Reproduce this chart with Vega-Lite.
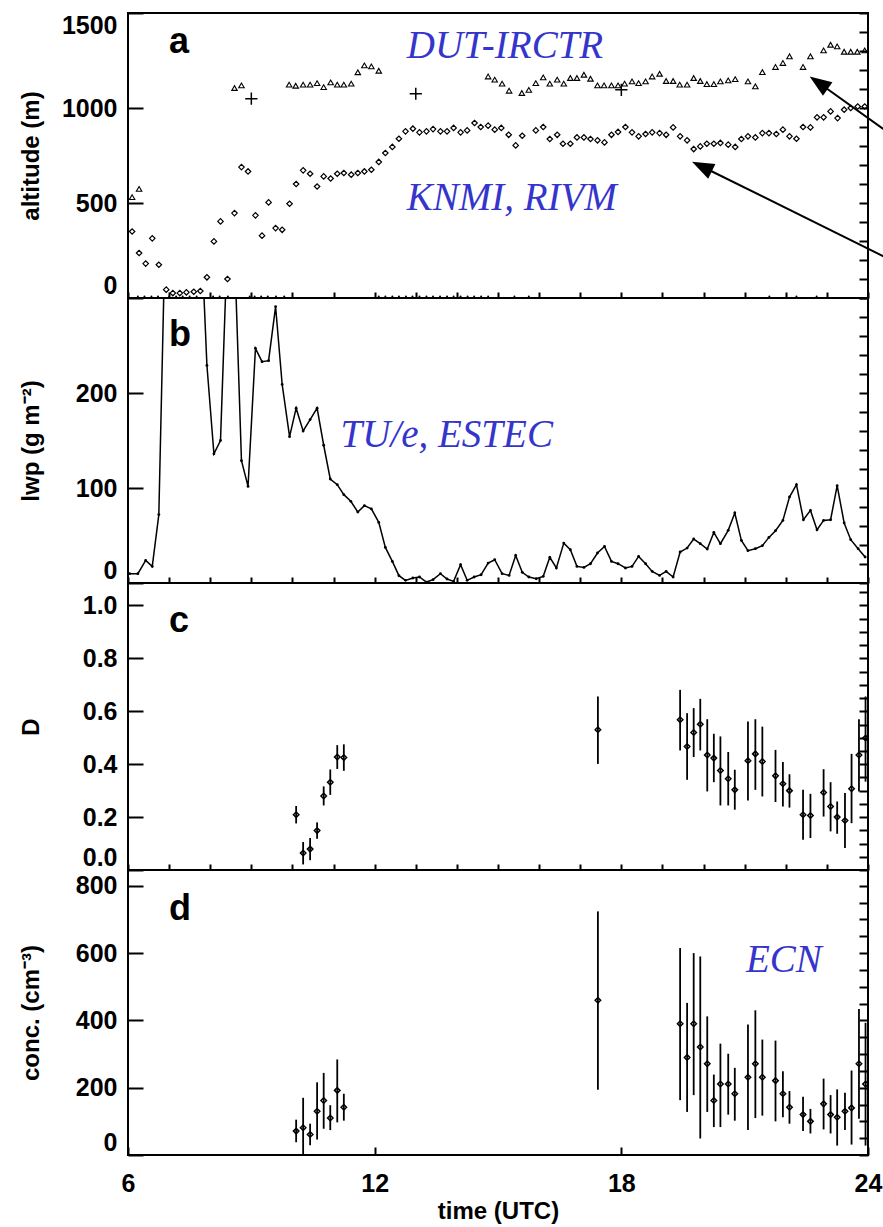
{
"$schema": "https://vega.github.io/schema/vega-lite/v6.json",
"background": "white",
"padding": {"left": 18, "top": 0, "right": 0, "bottom": 0},
"spacing": 0,
"bounds": "flush",
"config": {
 "view": {"stroke": "black", "strokeWidth": 2},
 "axis": {"domain": false, "grid": false, "tickColor": "black", "tickWidth": 2, "labelFont": "Liberation Sans", "labelFontWeight": "bold", "labelFontSize": 25, "labelColor": "black", "titleFont": "Liberation Sans", "titleFontWeight": "bold", "titleFontSize": 24, "titleColor": "black", "labelOverlap": false}
},
"datasets": {
 "tri": [{"t":6.10,"alt":531},{"t":6.27,"alt":574},{"t":8.59,"alt":1105},{"t":8.76,"alt":1119},{"t":9.92,"alt":1123},{"t":10.08,"alt":1117},{"t":10.26,"alt":1123},{"t":10.43,"alt":1123},{"t":10.60,"alt":1131},{"t":10.76,"alt":1110},{"t":10.93,"alt":1135},{"t":11.09,"alt":1123},{"t":11.25,"alt":1123},{"t":11.43,"alt":1128},{"t":11.59,"alt":1188},{"t":11.75,"alt":1224},{"t":11.92,"alt":1219},{"t":12.10,"alt":1196},{"t":14.76,"alt":1166},{"t":14.92,"alt":1149},{"t":15.10,"alt":1128},{"t":15.27,"alt":1091},{"t":15.58,"alt":1079},{"t":15.75,"alt":1095},{"t":15.92,"alt":1131},{"t":16.10,"alt":1161},{"t":16.26,"alt":1128},{"t":16.44,"alt":1149},{"t":16.60,"alt":1128},{"t":16.76,"alt":1158},{"t":16.92,"alt":1158},{"t":17.09,"alt":1175},{"t":17.25,"alt":1154},{"t":17.42,"alt":1119},{"t":17.58,"alt":1119},{"t":17.76,"alt":1119},{"t":17.92,"alt":1119},{"t":18.08,"alt":1128},{"t":18.26,"alt":1140},{"t":18.42,"alt":1131},{"t":18.59,"alt":1140},{"t":18.75,"alt":1166},{"t":18.93,"alt":1180},{"t":19.09,"alt":1142},{"t":19.26,"alt":1142},{"t":19.42,"alt":1123},{"t":19.60,"alt":1123},{"t":19.76,"alt":1158},{"t":19.92,"alt":1142},{"t":20.08,"alt":1126},{"t":20.25,"alt":1126},{"t":20.41,"alt":1140},{"t":20.60,"alt":1145},{"t":20.77,"alt":1152},{"t":21.08,"alt":1140},{"t":21.26,"alt":1114},{"t":21.43,"alt":1189},{"t":21.75,"alt":1216},{"t":21.93,"alt":1237},{"t":22.09,"alt":1272},{"t":22.42,"alt":1216},{"t":22.60,"alt":1272},{"t":22.92,"alt":1303},{"t":23.09,"alt":1333},{"t":23.25,"alt":1324},{"t":23.42,"alt":1296},{"t":23.58,"alt":1296},{"t":23.74,"alt":1296},{"t":23.92,"alt":1303}],
 "dia": [{"t":6.10,"alt":350},{"t":6.27,"alt":237},{"t":6.43,"alt":181},{"t":6.59,"alt":314},{"t":6.75,"alt":175},{"t":6.93,"alt":44},{"t":7.09,"alt":26},{"t":7.26,"alt":26},{"t":7.42,"alt":30},{"t":7.60,"alt":33},{"t":7.76,"alt":37},{"t":7.92,"alt":109},{"t":8.09,"alt":298},{"t":8.25,"alt":403},{"t":8.42,"alt":100},{"t":8.59,"alt":447},{"t":8.76,"alt":689},{"t":8.92,"alt":666},{"t":9.10,"alt":435},{"t":9.26,"alt":328},{"t":9.42,"alt":503},{"t":9.59,"alt":368},{"t":9.75,"alt":359},{"t":9.93,"alt":496},{"t":10.09,"alt":600},{"t":10.26,"alt":672},{"t":10.43,"alt":654},{"t":10.60,"alt":587},{"t":10.76,"alt":640},{"t":10.93,"alt":629},{"t":11.09,"alt":654},{"t":11.25,"alt":658},{"t":11.43,"alt":649},{"t":11.59,"alt":658},{"t":11.75,"alt":666},{"t":11.92,"alt":675},{"t":12.10,"alt":716},{"t":12.26,"alt":763},{"t":12.43,"alt":795},{"t":12.59,"alt":838},{"t":12.75,"alt":877},{"t":12.93,"alt":891},{"t":13.09,"alt":872},{"t":13.26,"alt":877},{"t":13.42,"alt":889},{"t":13.60,"alt":877},{"t":13.76,"alt":877},{"t":13.92,"alt":895},{"t":14.09,"alt":872},{"t":14.25,"alt":882},{"t":14.43,"alt":921},{"t":14.58,"alt":900},{"t":14.76,"alt":907},{"t":14.92,"alt":886},{"t":15.08,"alt":895},{"t":15.26,"alt":859},{"t":15.43,"alt":803},{"t":15.59,"alt":854},{"t":15.92,"alt":882},{"t":16.10,"alt":900},{"t":16.26,"alt":837},{"t":16.44,"alt":859},{"t":16.58,"alt":812},{"t":16.76,"alt":812},{"t":16.92,"alt":845},{"t":17.09,"alt":845},{"t":17.25,"alt":837},{"t":17.42,"alt":830},{"t":17.59,"alt":819},{"t":17.76,"alt":859},{"t":17.92,"alt":874},{"t":18.10,"alt":900},{"t":18.26,"alt":872},{"t":18.42,"alt":851},{"t":18.59,"alt":863},{"t":18.75,"alt":872},{"t":18.93,"alt":868},{"t":19.09,"alt":859},{"t":19.26,"alt":898},{"t":19.43,"alt":851},{"t":19.60,"alt":830},{"t":19.76,"alt":784},{"t":19.92,"alt":798},{"t":20.08,"alt":812},{"t":20.25,"alt":812},{"t":20.41,"alt":816},{"t":20.60,"alt":807},{"t":20.77,"alt":795},{"t":20.92,"alt":837},{"t":21.08,"alt":851},{"t":21.26,"alt":845},{"t":21.43,"alt":868},{"t":21.59,"alt":868},{"t":21.77,"alt":863},{"t":21.93,"alt":886},{"t":22.09,"alt":851},{"t":22.26,"alt":838},{"t":22.42,"alt":900},{"t":22.60,"alt":898},{"t":22.76,"alt":951},{"t":22.92,"alt":951},{"t":23.09,"alt":982},{"t":23.26,"alt":947},{"t":23.42,"alt":991},{"t":23.58,"alt":1000},{"t":23.75,"alt":1008},{"t":23.92,"alt":1008}],
 "crs": [{"t":9.0,"alt":1049},{"t":13.0,"alt":1075},{"t":18.0,"alt":1096}],
 "clr": [{"t":6.24,"alt":8},{"t":6.40,"alt":8},{"t":6.57,"alt":8},{"t":6.73,"alt":8},{"t":7.00,"alt":8},{"t":7.17,"alt":8},{"t":7.33,"alt":8},{"t":7.50,"alt":8},{"t":7.67,"alt":8},{"t":8.07,"alt":8},{"t":8.23,"alt":8},{"t":8.43,"alt":8},{"t":8.96,"alt":8},{"t":9.08,"alt":8},{"t":9.24,"alt":8},{"t":9.40,"alt":8},{"t":9.60,"alt":8},{"t":9.80,"alt":8},{"t":12.10,"alt":8},{"t":12.26,"alt":8},{"t":12.43,"alt":8},{"t":12.59,"alt":8},{"t":12.76,"alt":8},{"t":12.92,"alt":8},{"t":13.09,"alt":8},{"t":13.26,"alt":8},{"t":13.42,"alt":8},{"t":13.59,"alt":8},{"t":13.76,"alt":8},{"t":13.92,"alt":8},{"t":14.09,"alt":8},{"t":14.26,"alt":8},{"t":14.42,"alt":8},{"t":14.59,"alt":8},{"t":14.76,"alt":8},{"t":15.40,"alt":8},{"t":15.75,"alt":8},{"t":21.60,"alt":8},{"t":22.26,"alt":8},{"t":22.75,"alt":8}],
 "lwp": [{"t":6.04,"lwp":9.8},{"t":6.24,"lwp":9.8},{"t":6.43,"lwp":23.8},{"t":6.59,"lwp":17.5},{"t":6.75,"lwp":72},{"t":6.92,"lwp":400},{"t":7.09,"lwp":520},{"t":7.26,"lwp":560},{"t":7.42,"lwp":540},{"t":7.59,"lwp":500},{"t":7.76,"lwp":390},{"t":7.92,"lwp":229},{"t":8.09,"lwp":136},{"t":8.25,"lwp":150},{"t":8.42,"lwp":362},{"t":8.59,"lwp":353},{"t":8.76,"lwp":128.7},{"t":8.92,"lwp":101.7},{"t":9.10,"lwp":247},{"t":9.26,"lwp":233},{"t":9.42,"lwp":234},{"t":9.59,"lwp":291},{"t":9.75,"lwp":209},{"t":9.93,"lwp":154},{"t":10.09,"lwp":184},{"t":10.26,"lwp":160},{"t":10.43,"lwp":172},{"t":10.60,"lwp":184},{"t":10.76,"lwp":145},{"t":10.92,"lwp":109.5},{"t":11.09,"lwp":103.5},{"t":11.25,"lwp":93},{"t":11.42,"lwp":86},{"t":11.59,"lwp":74.7},{"t":11.75,"lwp":81.4},{"t":11.92,"lwp":78},{"t":12.10,"lwp":63.8},{"t":12.26,"lwp":37.5},{"t":12.43,"lwp":22.7},{"t":12.59,"lwp":7.7},{"t":12.75,"lwp":2.8},{"t":12.93,"lwp":5.3},{"t":13.09,"lwp":6.3},{"t":13.26,"lwp":1},{"t":13.42,"lwp":3.5},{"t":13.60,"lwp":9.8},{"t":13.76,"lwp":4.2},{"t":13.92,"lwp":1.7},{"t":14.09,"lwp":19.3},{"t":14.25,"lwp":2.8},{"t":14.42,"lwp":6.3},{"t":14.59,"lwp":8.7},{"t":14.76,"lwp":21},{"t":14.92,"lwp":24.5},{"t":15.10,"lwp":9.8},{"t":15.27,"lwp":8},{"t":15.43,"lwp":29},{"t":15.59,"lwp":11.2},{"t":15.75,"lwp":6.3},{"t":15.93,"lwp":4.5},{"t":16.10,"lwp":7},{"t":16.26,"lwp":27},{"t":16.42,"lwp":15.8},{"t":16.60,"lwp":42},{"t":16.76,"lwp":35},{"t":16.92,"lwp":17.5},{"t":17.09,"lwp":16.4},{"t":17.25,"lwp":20.3},{"t":17.42,"lwp":31.6},{"t":17.59,"lwp":38.5},{"t":17.76,"lwp":22.7},{"t":17.92,"lwp":20.3},{"t":18.10,"lwp":15.8},{"t":18.26,"lwp":17.5},{"t":18.42,"lwp":28},{"t":18.59,"lwp":20.3},{"t":18.75,"lwp":12.2},{"t":18.93,"lwp":8},{"t":19.09,"lwp":12.2},{"t":19.26,"lwp":6.3},{"t":19.43,"lwp":32.6},{"t":19.60,"lwp":36.8},{"t":19.76,"lwp":46.3},{"t":19.92,"lwp":41.4},{"t":20.09,"lwp":35.8},{"t":20.25,"lwp":53.3},{"t":20.41,"lwp":41.4},{"t":20.60,"lwp":55.4},{"t":20.76,"lwp":73.7},{"t":20.92,"lwp":44.8},{"t":21.08,"lwp":34},{"t":21.26,"lwp":36.1},{"t":21.43,"lwp":39.3},{"t":21.59,"lwp":48},{"t":21.75,"lwp":55},{"t":21.93,"lwp":65.9},{"t":22.09,"lwp":90.5},{"t":22.26,"lwp":103.5},{"t":22.43,"lwp":66.6},{"t":22.60,"lwp":76.4},{"t":22.76,"lwp":56},{"t":22.92,"lwp":65.9},{"t":23.09,"lwp":66.6},{"t":23.25,"lwp":102.4},{"t":23.42,"lwp":63.2},{"t":23.58,"lwp":45.6},{"t":23.76,"lwp":36.1},{"t":23.93,"lwp":27.4}],
 "dd": [{"t":10.09,"D":0.209,"lo":0.176,"hi":0.242},{"t":10.26,"D":0.064,"lo":0.021,"hi":0.106},{"t":10.43,"D":0.079,"lo":0.037,"hi":0.121},{"t":10.60,"D":0.149,"lo":0.118,"hi":0.180},{"t":10.76,"D":0.280,"lo":0.244,"hi":0.316},{"t":10.92,"D":0.332,"lo":0.284,"hi":0.380},{"t":11.09,"D":0.427,"lo":0.382,"hi":0.472},{"t":11.25,"D":0.425,"lo":0.375,"hi":0.475},{"t":17.43,"D":0.530,"lo":0.401,"hi":0.656},{"t":19.43,"D":0.568,"lo":0.452,"hi":0.681},{"t":19.60,"D":0.467,"lo":0.341,"hi":0.593},{"t":19.76,"D":0.520,"lo":0.427,"hi":0.612},{"t":19.92,"D":0.551,"lo":0.452,"hi":0.647},{"t":20.09,"D":0.435,"lo":0.297,"hi":0.570},{"t":20.25,"D":0.423,"lo":0.332,"hi":0.515},{"t":20.41,"D":0.376,"lo":0.244,"hi":0.505},{"t":20.60,"D":0.345,"lo":0.244,"hi":0.446},{"t":20.76,"D":0.303,"lo":0.228,"hi":0.379},{"t":21.08,"D":0.413,"lo":0.263,"hi":0.561},{"t":21.26,"D":0.439,"lo":0.303,"hi":0.570},{"t":21.43,"D":0.410,"lo":0.278,"hi":0.542},{"t":21.75,"D":0.356,"lo":0.257,"hi":0.454},{"t":21.93,"D":0.326,"lo":0.240,"hi":0.408},{"t":22.09,"D":0.300,"lo":0.236,"hi":0.362},{"t":22.42,"D":0.209,"lo":0.114,"hi":0.303},{"t":22.60,"D":0.206,"lo":0.121,"hi":0.288},{"t":22.92,"D":0.293,"lo":0.202,"hi":0.381},{"t":23.09,"D":0.240,"lo":0.146,"hi":0.332},{"t":23.25,"D":0.200,"lo":0.137,"hi":0.259},{"t":23.44,"D":0.187,"lo":0.083,"hi":0.291},{"t":23.60,"D":0.307,"lo":0.177,"hi":0.439},{"t":23.78,"D":0.435,"lo":0.297,"hi":0.570},{"t":23.94,"D":0.499,"lo":0.334,"hi":0.656}],
 "cc": [{"t":10.09,"conc":71,"lo":38,"hi":105},{"t":10.26,"conc":81,"lo":-5,"hi":170},{"t":10.43,"conc":61,"lo":29,"hi":93},{"t":10.60,"conc":130,"lo":46,"hi":216},{"t":10.76,"conc":162,"lo":78,"hi":244},{"t":10.92,"conc":110,"lo":74,"hi":148},{"t":11.09,"conc":192,"lo":97,"hi":284},{"t":11.25,"conc":142,"lo":102,"hi":182},{"t":17.43,"conc":460,"lo":194,"hi":724},{"t":19.43,"conc":390,"lo":163,"hi":615},{"t":19.60,"conc":290,"lo":128,"hi":452},{"t":19.76,"conc":390,"lo":178,"hi":600},{"t":19.92,"conc":321,"lo":49,"hi":590},{"t":20.09,"conc":271,"lo":128,"hi":412},{"t":20.25,"conc":162,"lo":83,"hi":239},{"t":20.41,"conc":211,"lo":83,"hi":331},{"t":20.60,"conc":211,"lo":120,"hi":301},{"t":20.76,"conc":182,"lo":102,"hi":259},{"t":21.08,"conc":231,"lo":74,"hi":388},{"t":21.26,"conc":271,"lo":110,"hi":430},{"t":21.43,"conc":231,"lo":117,"hi":343},{"t":21.75,"conc":221,"lo":100,"hi":340},{"t":21.93,"conc":182,"lo":112,"hi":249},{"t":22.09,"conc":142,"lo":93,"hi":190},{"t":22.42,"conc":120,"lo":71,"hi":173},{"t":22.60,"conc":100,"lo":64,"hi":137},{"t":22.92,"conc":152,"lo":76,"hi":227},{"t":23.09,"conc":120,"lo":64,"hi":178},{"t":23.25,"conc":112,"lo":28,"hi":195},{"t":23.44,"conc":130,"lo":74,"hi":185},{"t":23.60,"conc":140,"lo":31,"hi":251},{"t":23.78,"conc":271,"lo":108,"hi":434},{"t":23.94,"conc":211,"lo":28,"hi":393}]
},
"vconcat": [
{
 "width": 740, "height": 285,
 "resolve": {"axis": {"x": "independent", "y": "independent"}},
 "layer": [
  {"data": {"name": "dia"}, "mark": {"type": "point", "opacity": 0},
   "encoding": {"x": {"field": "t", "type": "quantitative", "scale": {"domain": [6, 24], "nice": false, "zero": false}, "axis": {"orient": "bottom", "values": [6, 7, 8, 9, 10, 11, 12, 13, 14, 15, 16, 17, 18, 19, 20, 21, 22, 23, 24], "labels": true, "labelExpr": "''", "tickSize": 6, "offset": -6, "title": ""}},
                "y": {"field": "alt", "type": "quantitative", "scale": {"domain": [0, 1500], "nice": false, "zero": false}, "axis": {"orient": "left", "values": [0, 500, 1000, 1500], "ticks": true, "tickSize": -15, "labelPadding": 26, "labelFlush": true, "format": "d", "title": "altitude (m)", "titleX": -97, "titleY": 142.5, "titleAngle": 270, "titleAlign": "center", "titleBaseline": "middle"}}}},
  {"data": {"name": "dia"}, "mark": {"type": "point", "opacity": 0},
   "encoding": {"x": {"field": "t", "type": "quantitative", "scale": {"domain": [6, 24], "nice": false, "zero": false}, "axis": null},
                "y": {"field": "alt", "type": "quantitative", "scale": {"domain": [0, 1500], "nice": false, "zero": false}, "axis": {"orient": "right", "values": [0, 100, 200, 300, 400, 500, 600, 700, 800, 900, 1000, 1100, 1200, 1300, 1400, 1500], "labels": true, "labelExpr": "''", "tickSize": 9, "offset": -9, "title": ""}}}},
  {"data": {"name": "clr"}, "mark": {"type": "circle", "size": 4, "color": "black", "opacity": 1},
   "encoding": {"x": {"field": "t", "type": "quantitative", "scale": {"domain": [6, 24], "nice": false, "zero": false}, "axis": null},
                "y": {"field": "alt", "type": "quantitative", "scale": {"domain": [0, 1500], "nice": false, "zero": false}, "axis": null}}},
  {"data": {"name": "dia"}, "mark": {"type": "point", "shape": "diamond", "size": 30, "filled": false, "stroke": "black", "strokeWidth": 1.2, "opacity": 1},
   "encoding": {"x": {"field": "t", "type": "quantitative", "scale": {"domain": [6, 24], "nice": false, "zero": false}, "axis": null},
                "y": {"field": "alt", "type": "quantitative", "scale": {"domain": [0, 1500], "nice": false, "zero": false}, "axis": null}}},
  {"data": {"name": "tri"}, "mark": {"type": "point", "shape": "triangle-up", "size": 30, "filled": false, "stroke": "black", "strokeWidth": 1.1, "opacity": 1},
   "encoding": {"x": {"field": "t", "type": "quantitative", "scale": {"domain": [6, 24], "nice": false, "zero": false}, "axis": null},
                "y": {"field": "alt", "type": "quantitative", "scale": {"domain": [0, 1500], "nice": false, "zero": false}, "axis": null}}},
  {"data": {"name": "crs"}, "mark": {"type": "point", "shape": "M-1,0L1,0M0,-1L0,1", "size": 150, "filled": false, "stroke": "black", "strokeWidth": 1.5, "opacity": 1},
   "encoding": {"x": {"field": "t", "type": "quantitative", "scale": {"domain": [6, 24], "nice": false, "zero": false}, "axis": null},
                "y": {"field": "alt", "type": "quantitative", "scale": {"domain": [0, 1500], "nice": false, "zero": false}, "axis": null}}},
  {"data": {"values": [{"t": 24.81, "alt": 822, "t2": 22.80, "alt2": 1133}, {"t": 24.81, "alt": 173, "t2": 19.96, "alt2": 692}]},
   "mark": {"type": "rule", "clip": false, "strokeWidth": 2, "color": "black"},
   "encoding": {"x": {"field": "t", "type": "quantitative", "scale": {"domain": [6, 24], "nice": false, "zero": false}, "axis": null},
                "y": {"field": "alt", "type": "quantitative", "scale": {"domain": [0, 1500], "nice": false, "zero": false}, "axis": null},
                "x2": {"field": "t2"}, "y2": {"field": "alt2"}}},
  {"data": {"values": [{"t": 22.80, "alt": 1133}]},
   "mark": {"type": "point", "shape": "M0,-1L0.75,1L-0.75,1Z", "size": 484, "filled": true, "color": "black", "angle": 305, "opacity": 1},
   "encoding": {"x": {"field": "t", "type": "quantitative", "scale": {"domain": [6, 24], "nice": false, "zero": false}, "axis": null},
                "y": {"field": "alt", "type": "quantitative", "scale": {"domain": [0, 1500], "nice": false, "zero": false}, "axis": null}}},
  {"data": {"values": [{"t": 19.96, "alt": 692}]},
   "mark": {"type": "point", "shape": "M0,-1L0.75,1L-0.75,1Z", "size": 484, "filled": true, "color": "black", "angle": 296, "opacity": 1},
   "encoding": {"x": {"field": "t", "type": "quantitative", "scale": {"domain": [6, 24], "nice": false, "zero": false}, "axis": null},
                "y": {"field": "alt", "type": "quantitative", "scale": {"domain": [0, 1500], "nice": false, "zero": false}, "axis": null}}},
  {"data": {"values": [{"t": 7.0, "alt": 1291, "label": "a"}]},
   "mark": {"type": "text", "font": "Liberation Sans", "fontWeight": "bold", "fontSize": 36, "align": "left", "baseline": "alphabetic", "color": "black"},
   "encoding": {"x": {"field": "t", "type": "quantitative", "scale": {"domain": [6, 24], "nice": false, "zero": false}, "axis": null},
                "y": {"field": "alt", "type": "quantitative", "scale": {"domain": [0, 1500], "nice": false, "zero": false}, "axis": null},
                "text": {"field": "label"}}},
  {"data": {"values": [{"t": 12.78, "alt": 1265, "label": "DUT-IRCTR"}, {"t": 12.78, "alt": 465, "label": "KNMI, RIVM"}]},
   "mark": {"type": "text", "font": "Liberation Serif", "fontStyle": "italic", "fontSize": 39, "align": "left", "baseline": "alphabetic", "color": "#3535CC"},
   "encoding": {"x": {"field": "t", "type": "quantitative", "scale": {"domain": [6, 24], "nice": false, "zero": false}, "axis": null},
                "y": {"field": "alt", "type": "quantitative", "scale": {"domain": [0, 1500], "nice": false, "zero": false}, "axis": null},
                "text": {"field": "label"}}}
 ]
},
{
 "width": 740, "height": 285,
 "resolve": {"axis": {"x": "independent", "y": "independent"}},
 "layer": [
  {"data": {"name": "lwp"}, "mark": {"type": "point", "opacity": 0},
   "encoding": {"x": {"field": "t", "type": "quantitative", "scale": {"domain": [6, 24], "nice": false, "zero": false}, "axis": {"orient": "bottom", "values": [6, 7, 8, 9, 10, 11, 12, 13, 14, 15, 16, 17, 18, 19, 20, 21, 22, 23, 24], "labels": true, "labelExpr": "''", "tickSize": 6, "offset": -6, "title": ""}},
                "y": {"field": "lwp", "type": "quantitative", "scale": {"domain": [0, 300], "nice": false, "zero": false}, "axis": {"orient": "left", "values": [0, 100, 200], "ticks": true, "tickSize": -15, "labelPadding": 26, "labelFlush": true, "format": "d", "title": "lwp (g m⁻²)", "titleX": -97, "titleY": 142.5, "titleAngle": 270, "titleAlign": "center", "titleBaseline": "middle"}}}},
  {"data": {"name": "lwp"}, "mark": {"type": "point", "opacity": 0},
   "encoding": {"x": {"field": "t", "type": "quantitative", "scale": {"domain": [6, 24], "nice": false, "zero": false}, "axis": null},
                "y": {"field": "lwp", "type": "quantitative", "scale": {"domain": [0, 300], "nice": false, "zero": false}, "axis": {"orient": "right", "values": [0, 20, 40, 60, 80, 100, 120, 140, 160, 180, 200, 220, 240, 260, 280, 300], "labels": true, "labelExpr": "''", "tickSize": 9, "offset": -9, "title": ""}}}},
  {"data": {"name": "lwp"}, "mark": {"type": "line", "color": "black", "strokeWidth": 1.5, "clip": true},
   "encoding": {"x": {"field": "t", "type": "quantitative", "scale": {"domain": [6, 24], "nice": false, "zero": false}, "axis": null},
                "y": {"field": "lwp", "type": "quantitative", "scale": {"domain": [0, 300], "nice": false, "zero": false}, "axis": null}}},
  {"data": {"name": "lwp"}, "mark": {"type": "circle", "color": "black", "size": 8, "clip": true, "opacity": 1},
   "encoding": {"x": {"field": "t", "type": "quantitative", "scale": {"domain": [6, 24], "nice": false, "zero": false}, "axis": null},
                "y": {"field": "lwp", "type": "quantitative", "scale": {"domain": [0, 300], "nice": false, "zero": false}, "axis": null}}},
  {"data": {"values": [{"t": 7.0, "lwp": 249, "label": "b"}]},
   "mark": {"type": "text", "font": "Liberation Sans", "fontWeight": "bold", "fontSize": 36, "align": "left", "baseline": "alphabetic", "color": "black"},
   "encoding": {"x": {"field": "t", "type": "quantitative", "scale": {"domain": [6, 24], "nice": false, "zero": false}, "axis": null},
                "y": {"field": "lwp", "type": "quantitative", "scale": {"domain": [0, 300], "nice": false, "zero": false}, "axis": null},
                "text": {"field": "label"}}},
  {"data": {"values": [{"t": 11.17, "lwp": 143.5, "label": "TU/e, ESTEC"}]},
   "mark": {"type": "text", "font": "Liberation Serif", "fontStyle": "italic", "fontSize": 39, "align": "left", "baseline": "alphabetic", "color": "#3535CC"},
   "encoding": {"x": {"field": "t", "type": "quantitative", "scale": {"domain": [6, 24], "nice": false, "zero": false}, "axis": null},
                "y": {"field": "lwp", "type": "quantitative", "scale": {"domain": [0, 300], "nice": false, "zero": false}, "axis": null},
                "text": {"field": "label"}}}
 ]
},
{
 "width": 740, "height": 287,
 "resolve": {"axis": {"x": "independent", "y": "independent"}},
 "layer": [
  {"data": {"name": "dd"}, "mark": {"type": "point", "opacity": 0},
   "encoding": {"x": {"field": "t", "type": "quantitative", "scale": {"domain": [6, 24], "nice": false, "zero": false}, "axis": {"orient": "bottom", "values": [6, 7, 8, 9, 10, 11, 12, 13, 14, 15, 16, 17, 18, 19, 20, 21, 22, 23, 24], "labels": true, "labelExpr": "''", "tickSize": 6, "offset": -6, "title": ""}},
                "y": {"field": "D", "type": "quantitative", "scale": {"domain": [0, 1.085], "nice": false, "zero": false}, "axis": {"orient": "left", "values": [0, 0.2, 0.4, 0.6, 0.8, 1.0], "ticks": true, "tickSize": -15, "labelPadding": 26, "labelFlush": true, "format": ".1f", "title": "D", "titleX": -97, "titleY": 143.5, "titleAngle": 270, "titleAlign": "center", "titleBaseline": "middle"}}}},
  {"data": {"name": "dd"}, "mark": {"type": "point", "opacity": 0},
   "encoding": {"x": {"field": "t", "type": "quantitative", "scale": {"domain": [6, 24], "nice": false, "zero": false}, "axis": null},
                "y": {"field": "D", "type": "quantitative", "scale": {"domain": [0, 1.085], "nice": false, "zero": false}, "axis": {"orient": "right", "values": [0, 0.05, 0.1, 0.15, 0.2, 0.25, 0.3, 0.35, 0.4, 0.45, 0.5, 0.55, 0.6, 0.65, 0.7, 0.75, 0.8, 0.85, 0.9, 0.95, 1.0, 1.05], "labels": true, "labelExpr": "''", "tickSize": 9, "offset": -9, "title": ""}}}},
  {"data": {"name": "dd"}, "mark": {"type": "rule", "color": "black", "strokeWidth": 1.8, "clip": true},
   "encoding": {"x": {"field": "t", "type": "quantitative", "scale": {"domain": [6, 24], "nice": false, "zero": false}, "axis": null},
                "y": {"field": "lo", "type": "quantitative", "scale": {"domain": [0, 1.085], "nice": false, "zero": false}, "axis": null},
                "y2": {"field": "hi"}}},
  {"data": {"name": "dd"}, "mark": {"type": "point", "shape": "diamond", "size": 30, "filled": false, "stroke": "black", "strokeWidth": 1.5, "opacity": 1},
   "encoding": {"x": {"field": "t", "type": "quantitative", "scale": {"domain": [6, 24], "nice": false, "zero": false}, "axis": null},
                "y": {"field": "D", "type": "quantitative", "scale": {"domain": [0, 1.085], "nice": false, "zero": false}, "axis": null}}},
  {"data": {"values": [{"t": 7.0, "D": 0.90, "label": "c"}]},
   "mark": {"type": "text", "font": "Liberation Sans", "fontWeight": "bold", "fontSize": 36, "align": "left", "baseline": "alphabetic", "color": "black"},
   "encoding": {"x": {"field": "t", "type": "quantitative", "scale": {"domain": [6, 24], "nice": false, "zero": false}, "axis": null},
                "y": {"field": "D", "type": "quantitative", "scale": {"domain": [0, 1.085], "nice": false, "zero": false}, "axis": null},
                "text": {"field": "label"}}}
 ]
},
{
 "width": 740, "height": 285,
 "resolve": {"axis": {"x": "independent", "y": "independent"}},
 "layer": [
  {"data": {"name": "cc"}, "mark": {"type": "point", "opacity": 0},
   "encoding": {"x": {"field": "t", "type": "quantitative", "scale": {"domain": [6, 24], "nice": false, "zero": false}, "axis": {"orient": "bottom", "values": [6, 12, 18, 24], "ticks": true, "tickSize": -8, "labelPadding": 24, "labelFlush": false, "format": "d", "title": "time (UTC)", "titlePadding": 3}},
                "y": {"field": "conc", "type": "quantitative", "scale": {"domain": [0, 847], "nice": false, "zero": false}, "axis": {"orient": "left", "values": [0, 200, 400, 600, 800], "ticks": true, "tickSize": -15, "labelPadding": 26, "labelFlush": true, "format": "d", "title": "conc. (cm⁻³)", "titleX": -97, "titleY": 142.5, "titleAngle": 270, "titleAlign": "center", "titleBaseline": "middle"}}}},
  {"data": {"name": "cc"}, "mark": {"type": "point", "opacity": 0},
   "encoding": {"x": {"field": "t", "type": "quantitative", "scale": {"domain": [6, 24], "nice": false, "zero": false}, "axis": null},
                "y": {"field": "conc", "type": "quantitative", "scale": {"domain": [0, 847], "nice": false, "zero": false}, "axis": {"orient": "right", "values": [0, 50, 100, 150, 200, 250, 300, 350, 400, 450, 500, 550, 600, 650, 700, 750, 800], "labels": true, "labelExpr": "''", "tickSize": 9, "offset": -9, "title": ""}}}},
  {"data": {"name": "cc"}, "mark": {"type": "rule", "color": "black", "strokeWidth": 1.8, "clip": true},
   "encoding": {"x": {"field": "t", "type": "quantitative", "scale": {"domain": [6, 24], "nice": false, "zero": false}, "axis": null},
                "y": {"field": "lo", "type": "quantitative", "scale": {"domain": [0, 847], "nice": false, "zero": false}, "axis": null},
                "y2": {"field": "hi"}}},
  {"data": {"name": "cc"}, "mark": {"type": "point", "shape": "diamond", "size": 30, "filled": false, "stroke": "black", "strokeWidth": 1.5, "opacity": 1},
   "encoding": {"x": {"field": "t", "type": "quantitative", "scale": {"domain": [6, 24], "nice": false, "zero": false}, "axis": null},
                "y": {"field": "conc", "type": "quantitative", "scale": {"domain": [0, 847], "nice": false, "zero": false}, "axis": null}}},
  {"data": {"values": [{"t": 7.0, "conc": 699, "label": "d"}]},
   "mark": {"type": "text", "font": "Liberation Sans", "fontWeight": "bold", "fontSize": 36, "align": "left", "baseline": "alphabetic", "color": "black"},
   "encoding": {"x": {"field": "t", "type": "quantitative", "scale": {"domain": [6, 24], "nice": false, "zero": false}, "axis": null},
                "y": {"field": "conc", "type": "quantitative", "scale": {"domain": [0, 847], "nice": false, "zero": false}, "axis": null},
                "text": {"field": "label"}}},
  {"data": {"values": [{"t": 21.03, "conc": 545, "label": "ECN"}]},
   "mark": {"type": "text", "font": "Liberation Serif", "fontStyle": "italic", "fontSize": 39, "align": "left", "baseline": "alphabetic", "color": "#3535CC"},
   "encoding": {"x": {"field": "t", "type": "quantitative", "scale": {"domain": [6, 24], "nice": false, "zero": false}, "axis": null},
                "y": {"field": "conc", "type": "quantitative", "scale": {"domain": [0, 847], "nice": false, "zero": false}, "axis": null},
                "text": {"field": "label"}}}
 ]
}
]
}
